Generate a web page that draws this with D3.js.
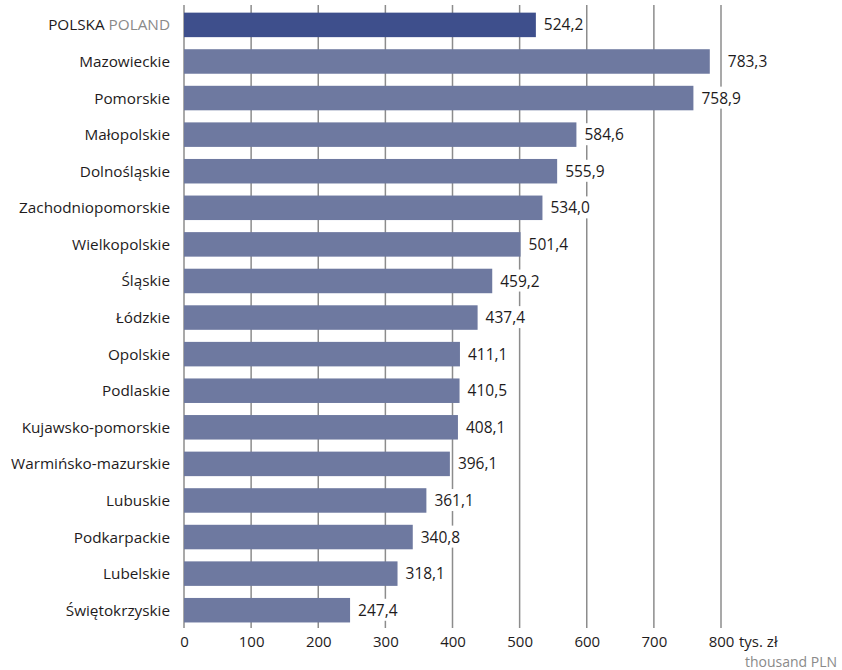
<!DOCTYPE html>
<html><head><meta charset="utf-8">
<script src="https://cdn.jsdelivr.net/npm/d3@7"></script>
<style>body{margin:0;background:#fff}svg{display:block}text{font-family:"Open Sans",sans-serif}</style>
</head><body>
<script>
const categories = ["POLSKA","Mazowieckie","Pomorskie","Małopolskie","Dolnośląskie","Zachodniopomorskie","Wielkopolskie","Śląskie","Łódzkie","Opolskie","Podlaskie","Kujawsko-pomorskie","Warmińsko-mazurskie","Lubuskie","Podkarpackie","Lubelskie","Świętokrzyskie"];
const values = [524.2,783.3,758.9,584.6,555.9,534.0,501.4,459.2,437.4,411.1,410.5,408.1,396.1,361.1,340.8,318.1,247.4];
const ticks = [0,100,200,300,400,500,600,700,800];
const W=842,H=670;
const svg=d3.select("body").append("svg").attr("width",W).attr("height",H);
const x=d3.scaleLinear().domain([0,800]).range([184,721]);
const y=d3.scaleBand().domain(categories).range([6.6,628.5]).paddingInner(0.33).paddingOuter(0.165);
const TXT="#1e1b1c";
// gridlines
svg.append("g").selectAll("line").data(ticks).join("line")
 .attr("x1",d=>x(d)).attr("x2",d=>x(d)).attr("y1",5).attr("y2",628)
 .attr("stroke","#8c8c8c").attr("stroke-width",1.5);
// bars
svg.append("g").selectAll("rect").data(categories).join("rect")
 .attr("x",x(0)).attr("y",d=>y(d)).attr("height",y.bandwidth())
 .attr("width",(d,i)=>x(values[i])-x(0))
 .attr("fill",(d,i)=>i===0?"#3e4f8c":"#6e79a0");
// value labels with white background
const vl=svg.append("g");
categories.forEach((c,i)=>{
  const t=vl.append("text").attr("x",x(values[i])+(i===1?18:8)).attr("y",y(c)+y.bandwidth()/2).attr("dy","0.36em")
   .attr("font-size",15.5).attr("fill",TXT).text(d3.format(".1f")(values[i]).replace(".",","));
  const b=t.node().getBBox();
  vl.insert("rect","text").attr("x",b.x-2).attr("y",b.y).attr("width",b.width+4).attr("height",b.height).attr("fill","#fff");
});
// category labels
const cl=svg.append("g");
categories.forEach((c,i)=>{
  const t=cl.append("text").attr("x",170).attr("y",y(c)+y.bandwidth()/2).attr("dy","0.36em")
   .attr("text-anchor","end").attr("font-size",15.3).attr("fill",TXT);
  t.append("tspan").text(c);
  if(i===0) t.append("tspan").attr("fill","#8a8a8a").text(" POLAND");
});
// axis
const ax=d3.axisBottom(x).tickValues(ticks).tickSize(0).tickPadding(0).tickFormat(d=>d);
const g=svg.append("g").attr("transform","translate(0,642)").call(ax);
g.select(".domain").remove();
g.selectAll("text").attr("font-size",15).attr("fill",TXT).attr("dy","0.36em").attr("y",0)
 .style("font-family","'Open Sans',sans-serif");
svg.append("text").attr("x",x(800)+18).attr("y",642).attr("dy","0.36em").attr("font-size",15).attr("fill",TXT).text("tys. zł");
svg.append("text").attr("x",837).attr("y",661.5).attr("dy","0.36em").attr("text-anchor","end").attr("font-size",14).attr("fill","#8a8a8a").text("thousand PLN");
</script>
</body></html>
